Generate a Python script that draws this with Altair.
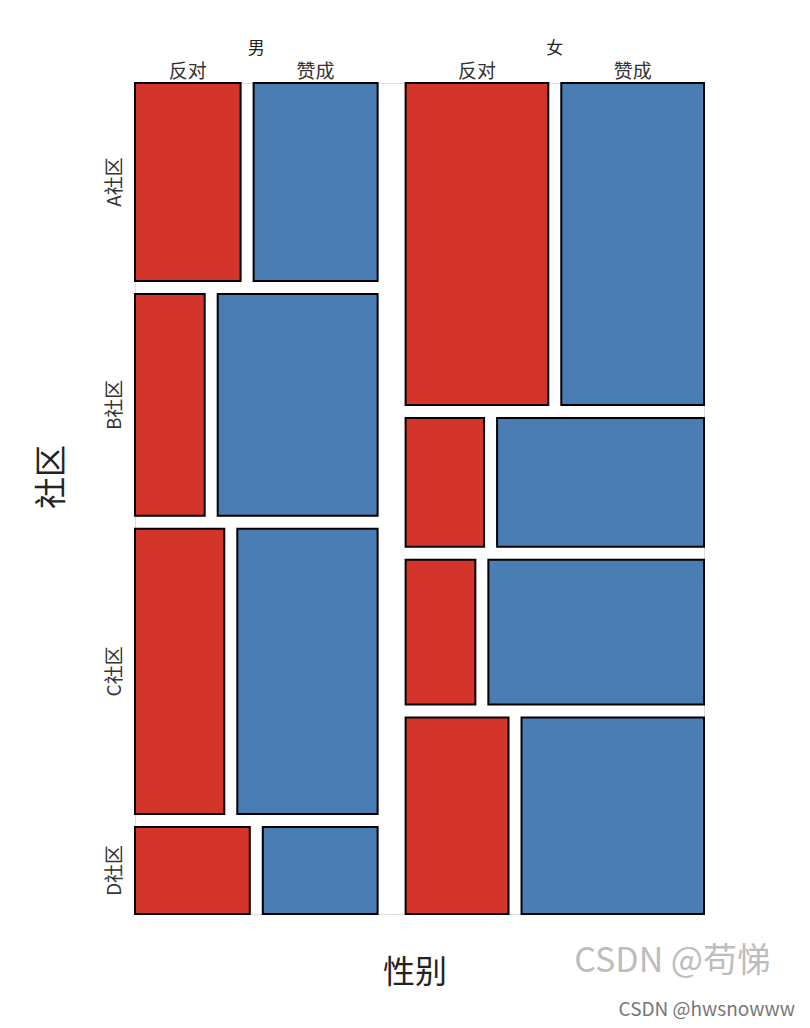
import altair as alt
import pandas as pd

genders = ["男", "女"]
communities = ["A社区", "B社区", "C社区", "D社区"]
opinions = ["反对", "赞成"]
male_oppose = [23, 17, 28, 11]
male_support = [27, 39, 44, 11]
female_oppose = [50, 11, 11, 22]
female_support = [50, 29, 34, 39]

RED = "#D3352A"
BLUE = "#4A7DB3"

W, H = 569, 831
GAP_G, GAP_R, GAP_C = 28, 13, 13

counts = {
    "男": (male_oppose, male_support),
    "女": (female_oppose, female_support),
}
N = sum(sum(a) + sum(b) for a, b in counts.values())

rects = []
gender_lbl = []
opinion_lbl = []
comm_lbl = []
x0 = 0.0
for g in genders:
    opp, sup = counts[g]
    gt = sum(opp) + sum(sup)
    cw = (W - GAP_G) * gt / N
    y0 = 0.0
    for i, c in enumerate(communities):
        rt = opp[i] + sup[i]
        rh = (H - GAP_R * (len(communities) - 1)) * rt / gt
        rw = (cw - GAP_C) * opp[i] / rt
        rects.append(dict(g=g, c=c, o="反对", x=x0, x2=x0 + rw, y=y0, y2=y0 + rh))
        rects.append(dict(g=g, c=c, o="赞成", x=x0 + rw + GAP_C, x2=x0 + cw, y=y0, y2=y0 + rh))
        if i == 0:
            opinion_lbl.append(dict(t="反对", x=x0 + rw / 2, y=-11))
            opinion_lbl.append(dict(t="赞成", x=(x0 + rw + GAP_C + x0 + cw) / 2, y=-11))
        if g == "男":
            comm_lbl.append(dict(t=c, x=-20, y=y0 + rh / 2))
        y0 += rh + GAP_R
    gender_lbl.append(dict(t=g, x=x0 + cw / 2, y=-34))
    x0 += cw + GAP_G

df = pd.DataFrame(rects)
xs = alt.Scale(domain=[0, W], nice=False, zero=False)
ys = alt.Scale(domain=[0, H], nice=False, zero=False, reverse=True)

tiles = alt.Chart(df).mark_rect(stroke="black", strokeWidth=2).encode(
    x=alt.X("x:Q", scale=xs, axis=None),
    x2="x2:Q",
    y=alt.Y("y:Q", scale=ys, axis=None),
    y2="y2:Q",
    color=alt.Color("o:N", scale=alt.Scale(domain=opinions, range=[RED, BLUE]), legend=None),
)

FONT = "Noto Sans CJK SC"

g_text = alt.Chart(pd.DataFrame(gender_lbl)).mark_text(
    font=FONT, fontSize=17, color="#222", baseline="middle", align="center", clip=False
).encode(x=alt.X("x:Q", scale=xs), y=alt.Y("y:Q", scale=ys), text="t:N")

o_text = alt.Chart(pd.DataFrame(opinion_lbl)).mark_text(
    font=FONT, fontSize=19, color="#333", baseline="middle", align="center", clip=False
).encode(x=alt.X("x:Q", scale=xs), y=alt.Y("y:Q", scale=ys), text="t:N")

c_text = alt.Chart(pd.DataFrame(comm_lbl)).mark_text(
    font=FONT, fontSize=19, color="#333", baseline="middle", align="center", angle=270, clip=False
).encode(x=alt.X("x:Q", scale=xs), y=alt.Y("y:Q", scale=ys), text="t:N")

ytitle = alt.Chart(pd.DataFrame({"t": ["社区"]})).mark_text(
    font=FONT, fontSize=32, color="#222", angle=270, baseline="middle", align="center"
).encode(x=alt.value(-83), y=alt.value(394), text="t:N")

xtitle = alt.Chart(pd.DataFrame({"t": ["性别"]})).mark_text(
    font=FONT, fontSize=32, color="#222", baseline="middle", align="center"
).encode(x=alt.value(280), y=alt.value(890), text="t:N")

wm1 = alt.Chart(pd.DataFrame({"t": ["CSDN @苟悌"]})).mark_text(
    font=FONT, fontSize=34, color="#bdbdbd", baseline="middle", align="right"
).encode(x=alt.value(636), y=alt.value(879), text="t:N")

wm2 = alt.Chart(pd.DataFrame({"t": ["CSDN @hwsnowww"]})).mark_text(
    font=FONT, fontSize=19, color="#777", baseline="middle", align="right"
).encode(x=alt.value(660), y=alt.value(927), text="t:N")

chart = alt.layer(tiles, g_text, o_text, c_text, ytitle, xtitle, wm1, wm2).properties(
    width=W,
    height=H,
    autosize=alt.AutoSizeParams(type="none"),
    padding={"left": 127, "top": 75, "right": 98, "bottom": 106},
).configure_view(stroke=None).configure(background="white")

chart.save("out.html", embed_options={"renderer": "svg", "actions": False})
